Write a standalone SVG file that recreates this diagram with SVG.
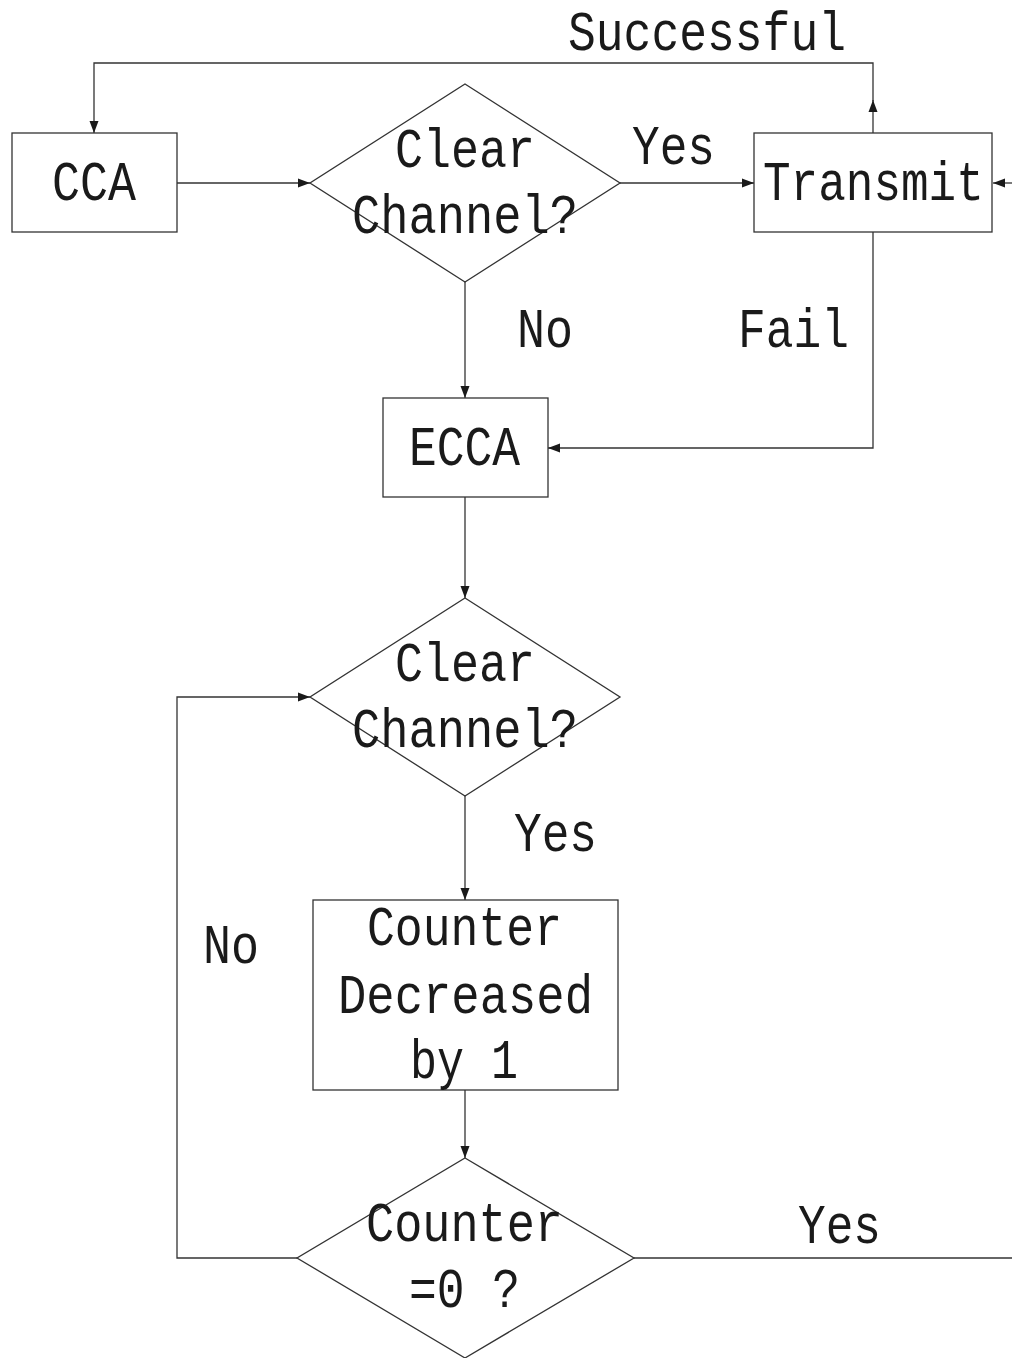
<svg xmlns="http://www.w3.org/2000/svg" width="1012" height="1358" viewBox="0 0 1012 1358">
<style>
.shape{fill:#fff;stroke:#333;stroke-width:1.3}
.edge{fill:none;stroke:#333;stroke-width:1.3}
.t{font-family:"Liberation Mono",monospace;font-size:56px;fill:#1a1a1a;text-anchor:start}
.tn{font-family:"Liberation Mono",monospace;font-size:46px;fill:#1a1a1a;text-anchor:start}
</style>
<defs>
<marker id="ah" markerWidth="13" markerHeight="10" refX="12" refY="5" orient="auto" markerUnits="userSpaceOnUse">
<path d="M0,0.5 L12,5 L0,9.5 Z" fill="#1a1a1a"/>
</marker>
</defs>
<rect width="1012" height="1358" fill="#fff"/>
<g id="connectors">
<path class="edge" d="M177,183 H310" marker-end="url(#ah)"/>
<path class="edge" d="M620,183 H754" marker-end="url(#ah)"/>
<path class="edge" d="M1012,183 H993" marker-end="url(#ah)"/>
<path class="edge" d="M873,133 V100" marker-end="url(#ah)"/>
<path class="edge" d="M873,101 V63 H94 V133" marker-end="url(#ah)"/>
<path class="edge" d="M465,282 V398" marker-end="url(#ah)"/>
<path class="edge" d="M873,232 V448 H548" marker-end="url(#ah)"/>
<path class="edge" d="M465,497 V598" marker-end="url(#ah)"/>
<path class="edge" d="M465,796 V900" marker-end="url(#ah)"/>
<path class="edge" d="M465,1090 V1158" marker-end="url(#ah)"/>
<path class="edge" d="M634,1258 H1012"/>
<path class="edge" d="M297,1258 H177 V697 H310" marker-end="url(#ah)"/>
<text class="t" x="568" y="50" textLength="278" lengthAdjust="spacingAndGlyphs">Successful</text>
<text class="t" x="632" y="164" textLength="83" lengthAdjust="spacingAndGlyphs">Yes</text>
<text class="t" x="517" y="347" textLength="56" lengthAdjust="spacingAndGlyphs">No</text>
<text class="t" x="738" y="347" textLength="111" lengthAdjust="spacingAndGlyphs">Fail</text>
<text class="t" x="514" y="851" textLength="83" lengthAdjust="spacingAndGlyphs">Yes</text>
<text class="t" x="203" y="963" textLength="56" lengthAdjust="spacingAndGlyphs">No</text>
<text class="t" x="798" y="1243" textLength="83" lengthAdjust="spacingAndGlyphs">Yes</text>
</g>
<g id="cca">
<rect class="shape" x="12" y="133" width="165" height="99"/>
<text class="t" x="52" y="200" textLength="84" lengthAdjust="spacingAndGlyphs">CCA</text>
</g>
<g id="clear1">
<polygon class="shape" points="465,84 620,183 465,282 310,183"/>
<text class="t" x="395" y="167" textLength="140" lengthAdjust="spacingAndGlyphs">Clear</text>
<text class="t" x="352" y="233" textLength="226" lengthAdjust="spacingAndGlyphs">Channel?</text>
</g>
<g id="transmit">
<rect class="shape" x="754" y="133" width="238" height="99"/>
<text class="tn" transform="translate(763,200) scale(1,1.217)" x="0" y="0">Transmit</text>
</g>
<g id="ecca">
<rect class="shape" x="383" y="398" width="165" height="99"/>
<text class="t" x="409" y="465" textLength="111" lengthAdjust="spacingAndGlyphs">ECCA</text>
</g>
<g id="clear2">
<polygon class="shape" points="465,598 620,697 465,796 310,697"/>
<text class="t" x="395" y="681" textLength="140" lengthAdjust="spacingAndGlyphs">Clear</text>
<text class="t" x="352" y="747" textLength="226" lengthAdjust="spacingAndGlyphs">Channel?</text>
</g>
<g id="counter">
<rect class="shape" x="313" y="900" width="305" height="190"/>
<text class="t" x="367" y="945" textLength="195" lengthAdjust="spacingAndGlyphs">Counter</text>
<text class="t" x="338" y="1013" textLength="255" lengthAdjust="spacingAndGlyphs">Decreased</text>
<text class="t" x="410" y="1078" textLength="108" lengthAdjust="spacingAndGlyphs">by 1</text>
</g>
<g id="zero">
<polygon class="shape" points="465,1158 634,1258 465,1358 297,1258"/>
<text class="t" x="366" y="1241" textLength="197" lengthAdjust="spacingAndGlyphs">Counter</text>
<text class="t" x="409" y="1307" textLength="111" lengthAdjust="spacingAndGlyphs">=0 ?</text>
</g>
</svg>
